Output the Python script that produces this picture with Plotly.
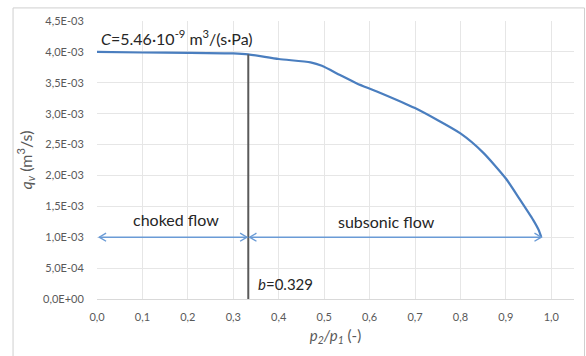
import plotly.graph_objects as go

# ---- data ----
ratio = [0.0, 0.1, 0.2, 0.3, 0.333, 0.4, 0.47, 0.495, 0.535, 0.572, 0.616, 0.7, 0.8, 0.85, 0.9, 0.93, 0.96, 0.972, 0.978]
flow = [4.00e-3, 3.99e-3, 3.985e-3, 3.975e-3, 3.96e-3, 3.885e-3, 3.83e-3, 3.775e-3, 3.625e-3, 3.49e-3,
        3.36e-3, 3.09e-3, 2.68e-3, 2.37e-3, 1.95e-3, 1.62e-3, 1.28e-3, 1.12e-3, 1.00e-3]

b_value = 0.333
b_top = 3.96e-3
arrow_y = 1.0e-3
choked_span = [0.005, 0.330]
subsonic_span = [0.336, 0.978]

x_ticks = [0.0, 0.1, 0.2, 0.3, 0.4, 0.5, 0.6, 0.7, 0.8, 0.9, 1.0]
x_ticklabels = ["0,0", "0,1", "0,2", "0,3", "0,4", "0,5", "0,6", "0,7", "0,8", "0,9", "1,0"]
y_ticks = [0, 0.5e-3, 1.0e-3, 1.5e-3, 2.0e-3, 2.5e-3, 3.0e-3, 3.5e-3, 4.0e-3, 4.5e-3]
y_ticklabels = ["0,0E+00", "5,0E-04", "1,0E-03", "1,5E-03", "2,0E-03", "2,5E-03", "3,0E-03", "3,5E-03", "4,0E-03", "4,5E-03"]

FONT = "Lato, 'Open Sans', sans-serif"
GRAY = "#595959"
ARROW = "#6a9bd6"

fig = go.Figure()

# main curve
fig.add_trace(go.Scatter(x=ratio, y=flow, mode="lines",
                         line=dict(color="#4a7ebf", width=2.2, shape="spline", smoothing=0.6),
                         hoverinfo="skip", showlegend=False))

# vertical line at b
fig.add_trace(go.Scatter(x=[b_value, b_value], y=[0, b_top], mode="lines",
                         line=dict(color="#5a5a5a", width=2), hoverinfo="skip", showlegend=False))


def double_arrow(x0, x1, y, hx=0.015, hy=0.065e-3):
    xs = [x0, x1, None,
          x0 + hx, x0, x0 + hx, None,
          x1 - hx, x1, x1 - hx]
    ys = [y, y, None,
          y + hy, y, y - hy, None,
          y + hy, y, y - hy]
    return go.Scatter(x=xs, y=ys, mode="lines", line=dict(color=ARROW, width=1.4),
                      hoverinfo="skip", showlegend=False)


fig.add_trace(double_arrow(choked_span[0], choked_span[1], arrow_y))
fig.add_trace(double_arrow(subsonic_span[0], subsonic_span[1], arrow_y))

TXT = "#262626"
fig.add_annotation(x=0.005, y=4.24e-3, xanchor="left", yanchor="middle", showarrow=False,
                   text="<i>C</i>=5.46·10<sup>-9</sup> m<sup>3</sup>/(s·Pa)",
                   font=dict(family=FONT, size=16, color=TXT))
fig.add_annotation(x=0.173, y=1.29e-3, xanchor="center", yanchor="middle", showarrow=False,
                   text="choked flow", font=dict(family=FONT, size=16, color=TXT))
fig.add_annotation(x=0.638, y=1.25e-3, xanchor="center", yanchor="middle", showarrow=False,
                   text="subsonic flow", font=dict(family=FONT, size=16, color=TXT))
fig.add_annotation(x=0.35, y=0.24e-3, xanchor="left", yanchor="middle", showarrow=False,
                   text="<i>b</i>=0.329", font=dict(family=FONT, size=15, color=TXT))

# outer chart frame
fig.add_shape(type="rect", xref="paper", yref="paper", x0=-0.176, x1=1.022, y0=-0.215, y1=1.047,
              line=dict(color="#cfcfcf", width=1), fillcolor="rgba(0,0,0,0)", layer="below")

fig.update_layout(
    width=586, height=356,
    margin=dict(l=97, r=12, t=21, b=57),
    paper_bgcolor="white", plot_bgcolor="white",
    font=dict(family=FONT, color=GRAY),
    xaxis=dict(range=[0, 1.05], tickvals=x_ticks, ticktext=x_ticklabels, automargin=False,
               showgrid=True, gridcolor="#e6e6e6", gridwidth=1, zeroline=False,
               showline=True, linecolor="#d9d9d9", linewidth=1,
               ticks="outside", ticklen=8, tickcolor="rgba(0,0,0,0)",
               tickfont=dict(size=11, color=GRAY, family=FONT),
               title=dict(text="<i>p<sub>2</sub>/p<sub>1</sub></i> (-)", font=dict(size=15, color=GRAY, family=FONT),
                          standoff=8)),
    yaxis=dict(range=[0, 4.5e-3], tickvals=y_ticks, ticktext=y_ticklabels, automargin=False,
               showgrid=True, gridcolor="#e6e6e6", gridwidth=1, zeroline=False,
               showline=False,
               ticks="outside", ticklen=10, tickcolor="rgba(0,0,0,0)",
               tickfont=dict(size=11, color=GRAY, family=FONT),
               title=dict(text="<i>q<sub>v</sub></i> (m<sup>3</sup>/s)", font=dict(size=16, color=GRAY, family=FONT),
                          standoff=6)),
    showlegend=False,
)

fig.write_html("out.html", config={"displayModeBar": False},
               post_script="document.body.style.margin='0';document.body.style.overflow='hidden';")
